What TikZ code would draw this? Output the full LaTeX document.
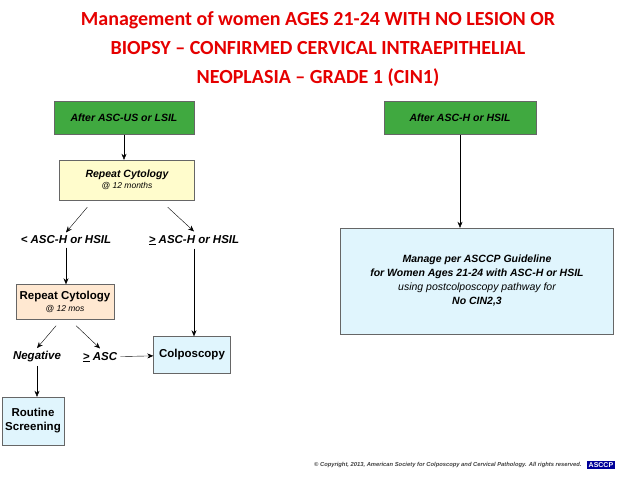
\documentclass[tikz,border=0pt]{standalone}
\usepackage{fontspec}
\setmainfont{Liberation Sans}
\newfontfamily\titlefont{Carlito}
\usetikzlibrary{positioning, arrows.meta}

\begin{document}
\begin{tikzpicture}[
    x=1pt, y=1pt,
    font=\fontsize{10.5}{12}\selectfont\bfseries\itshape,
    greenbox/.style={
        rectangle,
        draw=black!60,
        fill=green!55!black!75!white,
        minimum width=140pt,
        minimum height=33pt,
        align=center
    },
    cytobox/.style={
        rectangle,
        draw=black!60,
        align=center
    },
    bluebox/.style={
        rectangle,
        draw=black!60,
        fill=cyan!12,
        align=center,
        font=\fontsize{11.5}{14}\selectfont\bfseries
    },
    labelnode/.style={font=\fontsize{11.5}{14}\selectfont\bfseries\itshape},
    arrow/.style={-{Stealth[length=6pt,width=5pt]}, thin, draw=black}
]
\useasboundingbox (0,0) rectangle (638,-479);

% Titel
\node[text=red!90!black, align=center, font=\titlefont\fontsize{20}{29}\selectfont\bfseries] (titel) at (318,-49)
    {Management of women AGES 21-24 WITH NO LESION OR\\BIOPSY \textendash{} CONFIRMED CERVICAL INTRAEPITHELIAL\\NEOPLASIA \textendash{} GRADE 1 (CIN1)};

% linker tak
\node[greenbox] (ascus) at (124,-118) {After ASC-US or LSIL};
\node[cytobox, fill=yellow!20, minimum width=135pt, minimum height=40pt] (cyto1) at (127,-180)
    {Repeat Cytology\\[-1pt]{\mdseries\fontsize{8.5}{10}\selectfont @ 12 months}};
\node[labelnode] (lager) at (66,-240) {< ASC-H or HSIL};
\node[labelnode] (hoger) at (194,-240) {\underline{>} ASC-H or HSIL};
\node[cytobox, fill=orange!18, minimum width=94pt, minimum height=35pt, font=\fontsize{11.5}{13}\selectfont\bfseries] (cyto2) at (65,-302)
    {Repeat Cytology\\[-1pt]{\mdseries\itshape\fontsize{8.5}{10}\selectfont @ 12 mos}};
\node[labelnode] (negatief) at (37,-357) {Negative};
\node[labelnode] (asc) at (100,-357) {\underline{>} ASC};
\node[bluebox, minimum width=77pt, minimum height=37pt] (colpo) at (192,-355) {Colposcopy};
\node[bluebox, minimum width=59pt, minimum height=48pt] (routine) at (33,-421) {Routine\\Screening};

% rechter tak
\node[greenbox, minimum width=152pt] (asch) at (460,-118) {After ASC-H or HSIL};
\node[bluebox, minimum width=273pt, minimum height=106pt, font=\fontsize{10.5}{14}\selectfont\bfseries\itshape] (beheer) at (477,-281)
    {Manage per ASCCP Guideline\\for Women Ages 21-24 with ASC-H or HSIL\\{\mdseries using postcolposcopy pathway for}\\No CIN2,3};

% pijlen
\draw[arrow] (ascus) -- (ascus|-cyto1.north);
\draw[arrow] (cyto1.south west) ++(28,-7) -- (lager.north);
\draw[arrow] (cyto1.south east) ++(-27,-7) -- (hoger.north);
\draw[arrow] (lager) -- (lager|-cyto2.north);
\draw[arrow] (hoger.south) -- (hoger.south|-colpo.north);
\draw[arrow] (cyto2.south west) ++(40,-6) -- (negatief.north);
\draw[arrow] (cyto2.south west) ++(60,-6) -- (asc.north);
\draw[arrow] (asc) -- (colpo);
\draw[arrow] (negatief) -- (negatief|-routine.north);
\draw[arrow] (asch) -- (asch|-beheer.north);

% copyright
\node[anchor=east, font=\fontsize{5.8}{7}\selectfont\bfseries\itshape, text=black!75] (copy) at (585,-465)
    {\textcopyright{} Copyright, 2013, American Society for Colposcopy and Cervical Pathology. All rights reserved.};
\node[right=2pt of copy, fill=blue!60!black, text=white, inner sep=1.5pt, font=\fontsize{7}{8}\selectfont\bfseries] (logo) {ASCCP};
\end{tikzpicture}
\end{document}
